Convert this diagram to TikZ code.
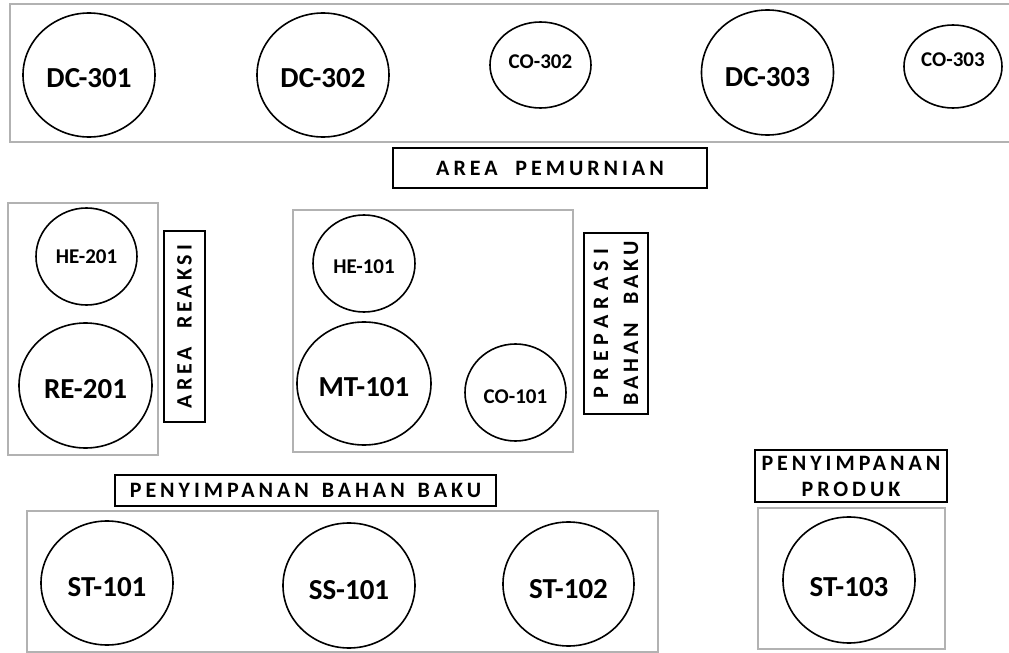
\documentclass[tikz,border=0pt]{standalone}
\usepackage{fontspec}
\setmainfont{Carlito}
\newfontfamily\spacedfont[LetterSpace=18]{Carlito}
\newfontfamily\widefont[LetterSpace=28]{Carlito}
\usetikzlibrary{shapes.geometric}

\begin{document}
\begin{tikzpicture}[
    x=0.5pt, y=-0.5pt,
    zone/.style={draw=gray!60, line width=0.6pt},
    bigunit/.style={ellipse, draw=black, line width=0.8pt, inner sep=0pt,
                    minimum width=66pt, minimum height=62pt,
                    font=\fontsize{14.5}{17}\selectfont\bfseries,
                    text height=13pt, text depth=0pt},
    smallunit/.style={ellipse, draw=black, line width=0.8pt, inner sep=0pt,
                      minimum width=50.5pt, minimum height=48.5pt,
                      font=\fontsize{10.5}{12}\selectfont\bfseries,
                      text height=9.5pt, text depth=0pt},
    areabox/.style={rectangle, draw=black, line width=1.1pt, inner sep=0pt,
                    align=center, font=\spacedfont\fontsize{11}{13}\selectfont\bfseries}
]
\clip (0,0) rectangle (1009,653);
\fill[white] (0,0) rectangle (1009,653);

% area frames
\draw[zone] (10,4) rectangle (1015,142);
\draw[zone] (8,203) rectangle (158,455);
\draw[zone] (293,210) rectangle (573,452);
\draw[zone] (27,511) rectangle (658,652);
\draw[zone] (758,508) rectangle (945,649);

% area pemurnian
\node[bigunit] (dc301) at (89,75) {DC-301};
\node[bigunit] (dc302) at (323,75) {DC-302};
\node[smallunit, minimum height=43pt, text height=6.7pt, text depth=3pt] (co302) at (540.5,65) {CO-302};
\node[bigunit, minimum height=62.5pt, text height=14pt] (dc303) at (767.5,72.5) {DC-303};
\node[smallunit, minimum width=49pt, minimum height=41.5pt, text height=6.7pt, text depth=7pt] (co303) at (953,66.5) {CO-303};
\node[areabox, minimum width=157pt, minimum height=20pt] (pemurnian) at (550,168) {AREA\ \ PEMURNIAN};

% area reaksi
\node[smallunit, text height=6.7pt] (he201) at (86.5,256.5) {HE-201};
\node[bigunit, minimum width=66.5pt, minimum height=62.5pt] (re201) at (85.5,385.5) {RE-201};
\node[areabox, rotate=90, minimum width=95.5pt, minimum height=20.5pt] (reaksi) at (184.5,326.5) {AREA\ \ REAKSI};

% preparasi bahan baku
\node[smallunit, minimum width=51pt] (he101) at (364,263.5) {HE-101};
\node[bigunit, minimum width=67pt, minimum height=61.5pt] (mt101) at (364,383.5) {MT-101};
\node[smallunit, text height=10.5pt] (co101) at (515.5,392.5) {CO-101};
\node[areabox, rotate=90, minimum width=90.5pt, minimum height=32pt,
      font=\spacedfont\fontsize{11}{15}\selectfont\bfseries] (preparasi) at (616,323.5) {{\widefont PREPARASI}\\BAHAN\ \ BAKU};

% penyimpanan
\node[areabox, minimum width=190.5pt, minimum height=15.5pt] (bahanbaku) at (305.5,490.5) {PENYIMPANAN\ \hspace{2pt}BAHAN\ \hspace{2pt}BAKU};
\node[bigunit, text height=13.5pt] (st101) at (107,583) {ST-101};
\node[bigunit, minimum height=62.5pt, text height=14pt] (ss101) at (349,585.5) {SS-101};
\node[bigunit, minimum width=65.5pt, text height=14pt] (st102) at (568.5,584) {ST-102};
\node[areabox, minimum width=96pt, minimum height=26pt] (produk) at (851,476) {PENYIMPANAN\\PRODUK};
\node[bigunit, minimum height=63pt, text height=16pt] (st103) at (849,580) {ST-103};

\end{tikzpicture}
\end{document}
